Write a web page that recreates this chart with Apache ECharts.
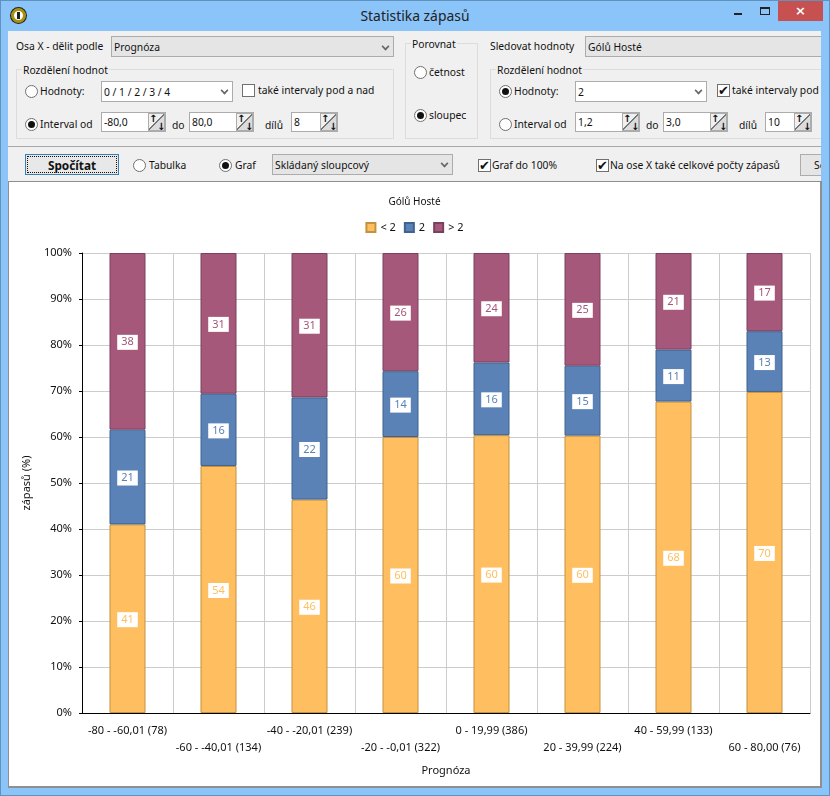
<!DOCTYPE html>
<html>
<head>
<meta charset="utf-8">
<title>Statistika zápasů</title>
<script src="https://cdn.jsdelivr.net/npm/echarts@6/dist/echarts.min.js"></script>
<style>
html, body { margin: 0; padding: 0; }
body { width: 830px; height: 796px; overflow: hidden; position: relative; background: #8ac4f8; font-family: "Noto Sans", sans-serif; font-size: 10.3px; color: #111; }
#content { position: absolute; left: 8px; top: 31px; width: 813px; height: 756px; background: #f0f0f0; overflow: hidden; }
#frame { position: absolute; left: 0; top: 0; width: 828px; height: 794px; border: 1px solid #5f93bd; }
#panel { position: absolute; left: 8px; top: 181px; width: 811px; height: 604px; background: #fff; border: 1px solid #8f8f8f; border-right-width: 2px; border-bottom-width: 2px; }
#chart { width: 811px; height: 604px; }
.t { position: absolute; white-space: nowrap; line-height: 14px; }
.box { position: absolute; box-sizing: border-box; }
.white { background: #fff; border: 1px solid #acacac; }
.grey { background: #e5e5e5; border: 1px solid #acacac; }
.group { border: 1px solid #dcdcdc; }
.radio { position: absolute; box-sizing: border-box; width: 13px; height: 13px; border-radius: 50%; border: 1px solid #707070; background: #fff; }
.radio.on::after { content: ""; position: absolute; left: 2px; top: 2px; width: 7px; height: 7px; border-radius: 50%; background: #111; }
.check { position: absolute; box-sizing: border-box; width: 13px; height: 13px; border: 1px solid #707070; background: #fff; font-size: 13px; line-height: 11px; text-align: center; font-family: "DejaVu Sans"; font-weight: bold; color: #111; }
.spin { position: absolute; box-sizing: border-box; width: 17px; height: 18px; border: 1px solid #acacac; background: linear-gradient(135deg, #f0f0f0 47%, #777 48%, #777 52%, #dcdcdc 53%); font: bold 10px/9px "DejaVu Sans"; color: #111; }
</style>
</head>
<body>
<div id="frame"></div>
<div class="box" style="left:11px;top:8px;width:15px;height:15px;border-radius:50%;background:#fff;border:3px solid #a8920f;box-shadow:0 0 0 1px #222"></div>
<div class="box" style="left:17px;top:12px;width:3px;height:7px;background:#222"></div>
<div class="t" style="left:0;width:830px;text-align:center;top:9px;font-size:13.9px;color:#222">Statistika zápasů</div>
<div class="box" style="left:734px;top:13px;width:8px;height:2px;background:#222"></div>
<div class="box" style="left:760px;top:7px;width:10px;height:8px;border:1px solid #222;border-top-width:2px"></div>
<div class="box" style="left:778px;top:1px;width:45px;height:20px;background:#c75050;color:#fff;text-align:center;font:bold 13px/19px 'DejaVu Sans'">×</div>
<div id="content"></div>
<div id="panel"><div id="chart"></div></div>

<script>
// osa X - popisky kategorii
var categories = [
    "-80 - -60,01 (78)",
    "-60 - -40,01 (134)",
    "-40 - -20,01 (239)",
    "-20 - -0,01 (322)",
    "0 - 19,99 (386)",
    "20 - 39,99 (224)",
    "40 - 59,99 (133)",
    "60 - 80,00 (76)"
];
// podily v procentech
var below2 = [41.0, 53.7, 46.4, 60.0, 60.4, 60.3, 67.7, 69.8];
var equal2 = [20.6, 15.7, 22.2, 14.3, 15.8, 15.2, 11.3, 13.2];
var above2 = [38.4, 30.6, 31.4, 25.7, 23.8, 24.5, 21.0, 17.0];
var seriesNames = ["< 2", "2", "> 2"];
var yTicks = [0, 100, 10];

// ovladaci prvky okna
(function () {
    var content = document.getElementById("content");
    var ox = 8, oy = 31;
    function add(cls, x, y, w, h, text) {
        var d = document.createElement("div");
        d.className = cls;
        d.style.left = (x - ox) + "px";
        d.style.top = (y - oy) + "px";
        if (w) d.style.width = w + "px";
        if (h) d.style.height = h + "px";
        if (text) d.textContent = text;
        content.appendChild(d);
        return d;
    }
    function text(x, y, s) { return add("t", x, y - 7, 0, 0, s); }
    function field(cls, x, w, y, h, s) {
        add("box " + cls, x, y, w, h);
        text(x + 3, y + h / 2, s);
    }
    function chevron(x, y) {
        var c = add("box", x, y, 7, 7);
        c.style.borderRight = "2px solid #666";
        c.style.borderBottom = "2px solid #666";
        c.style.transform = "rotate(45deg) scale(.8)";
    }
    function spin(x, w, s) {
        field("white", x, w, 112, 20, s);
        var b = add("spin", x + w - 18, 113);
        b.textContent = "↑";
        var a = add("t", x + w - 9, 122, 0, 0, "↓");
        a.style.font = 'bold 10px/9px "DejaVu Sans"';
    }
    function radio(x, y, on) { add("radio" + (on ? " on" : ""), x - 6, y - 6); }
    function check(x, y, on) { add("check", x, y, 0, 0, on ? "✔" : ""); }
    function group(x, y, w, h, s, lx) {
        add("box group", x, y, w, h);
        var l = text(lx, y + 1, s);
        l.style.background = "#f0f0f0";
        l.style.padding = "0 1px";
    }

    // levy blok
    text(16, 46, "Osa X - dělit podle");
    field("grey", 111, 283, 36, 21, "Prognóza");
    chevron(382, 43);
    group(16, 69, 378, 70, "Rozdělení hodnot", 22);
    radio(31, 91, false);
    text(40, 91, "Hodnoty:");
    field("white", 101, 132, 81, 21, "0 / 1 / 2 / 3 / 4");
    chevron(221, 87);
    check(242, 84, false);
    text(258, 90, "také intervaly pod a nad");
    radio(31, 124, true);
    text(40, 124, "Interval od");
    spin(101, 65, "-80,0");
    text(172, 125, "do");
    spin(189, 65, "80,0");
    text(265, 125, "dílů");
    spin(291, 47, "8");

    // Porovnat
    group(405, 43, 73, 96, "Porovnat", 411);
    radio(420, 72, false);
    text(429, 72, "četnost");
    radio(420, 115, true);
    text(429, 115, "sloupec");

    // pravy blok
    text(490, 46, "Sledovat hodnoty");
    field("grey", 585, 250, 36, 21, "Gólů Hosté");
    group(490, 69, 345, 70, "Rozdělení hodnot", 496);
    radio(505, 91, true);
    text(514, 91, "Hodnoty:");
    field("white", 575, 132, 81, 21, "2");
    chevron(695, 87);
    check(717, 84, true);
    text(732, 90, "také intervaly pod a nad");
    radio(505, 124, false);
    text(514, 124, "Interval od");
    spin(575, 65, "1,2");
    text(646, 125, "do");
    spin(663, 65, "3,0");
    text(739, 125, "dílů");
    spin(765, 47, "10");

    // oddelovac a druhy radek
    var sep = add("box", 8, 146, 813, 1);
    sep.style.background = "#a8a8a8";
    var btn = add("box", 25, 154, 94, 21);
    btn.style.border = "1px solid #3c7fb1";
    btn.style.outline = "1px dotted #111";
    btn.style.outlineOffset = "-3px";
    btn.style.background = "#e8e8e8";
    var bt = text(25, 165, "Spočítat");
    bt.style.width = "94px";
    bt.style.textAlign = "center";
    bt.style.fontWeight = "bold";
    bt.style.fontSize = "11.8px";
    radio(139, 165, false);
    text(149, 165, "Tabulka");
    radio(225, 165, true);
    text(235, 165, "Graf");
    field("grey", 272, 181, 154, 21, "Skládaný sloupcový");
    chevron(441, 160);
    check(478, 159, true);
    text(492, 165, "Graf do 100%");
    check(596, 159, true);
    text(610, 165, "Na ose X také celkové počty zápasů");
    add("box grey", 800, 154, 40, 22);
    text(814, 165, "Se");
})();

// skladany sloupcovy graf
(function () {
    var myChart = echarts.init(document.getElementById("chart"));
    var fontName = "Noto Sans";
    // barvy: vypln, okraj
    var fills = ["#ffbf60", "#5b82b6", "#a5587a"];
    var borders = ["#c4913f", "#3f628f", "#7a4060"];
    var values = [below2, equal2, above2];

    var option = {
        animation: false,
        color: fills,
        textStyle: { fontFamily: fontName, fontSize: 11, color: "#111" },
        title: {
            text: "Gólů Hosté",
            left: "center",
            top: 10,
            textStyle: { fontFamily: fontName, fontSize: 10, fontWeight: "normal", color: "#111" }
        },
        legend: {
            top: 35,
            left: "center",
            icon: "rect",
            itemWidth: 9,
            itemHeight: 9,
            itemGap: 8,
            data: seriesNames,
            textStyle: { fontFamily: fontName, fontSize: 11, color: "#111" }
        },
        grid: { left: 73, right: 10, top: 71, bottom: 73 },
        xAxis: {
            type: "category",
            data: categories,
            name: "Prognóza",
            nameLocation: "middle",
            nameGap: 52,
            nameTextStyle: { color: "#111", fontSize: 11 },
            axisLine: { lineStyle: { color: "#000" } },
            axisTick: { length: 3, lineStyle: { color: "#000" } },
            // popisky stridave ve dvou radcich
            axisLabel: {
                interval: 0,
                hideOverlap: false,
                margin: 9,
                lineHeight: 17,
                color: "#111",
                fontSize: 11,
                formatter: function (value, index) {
                    return index % 2 ? "\n" + value : value;
                },
                verticalAlign: "top"
            },
            splitLine: { show: true, interval: 0, lineStyle: { color: "#cccccc" } }
        },
        yAxis: {
            type: "value",
            min: yTicks[0],
            max: yTicks[1],
            interval: yTicks[2],
            name: "zápasů (%)",
            nameLocation: "middle",
            nameGap: 50,
            nameTextStyle: { color: "#111", fontSize: 11 },
            axisLine: { show: true, lineStyle: { color: "#000" } },
            axisTick: { show: true, length: 3, lineStyle: { color: "#000" } },
            axisLabel: { formatter: "{value}%", margin: 10, color: "#111", fontSize: 11, padding: [3, 0, 0, 0] },
            splitLine: { lineStyle: { color: "#cccccc" } }
        },
        series: seriesNames.map(function (name, i) {
            return {
                name: name,
                type: "bar",
                stack: "podil",
                barWidth: 36,
                data: values[i],
                itemStyle: { color: fills[i], borderColor: borders[i], borderWidth: 1 },
                label: {
                    show: true,
                    position: "inside",
                    offset: [0, 1],
                    backgroundColor: "#fff",
                    color: fills[i],
                    fontSize: 11,
                    padding: [2, 4],
                    formatter: function (p) {
                        return Math.round(p.value);
                    }
                }
            };
        })
    };
    myChart.setOption(option);
})();
</script>
</body>
</html>
